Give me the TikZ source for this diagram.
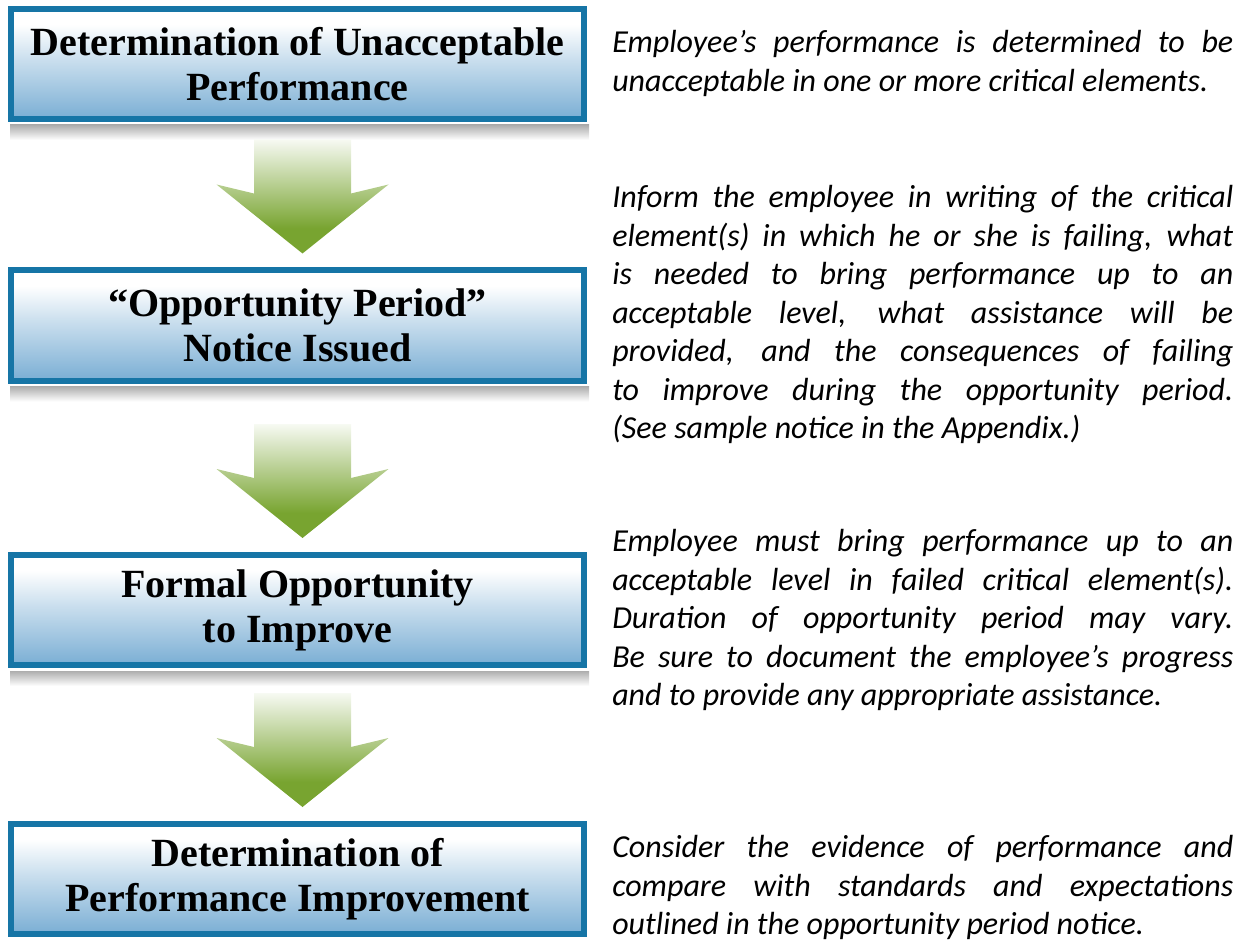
\documentclass[tikz,border=0pt]{standalone}
\usepackage{fontspec}
\setmainfont{Liberation Serif}
\newfontfamily\notefont{Carlito}
\usetikzlibrary{calc}
\definecolor{frameblue}{RGB}{22,117,166}
\definecolor{fillblue}{RGB}{122,174,212}
\definecolor{arrowgreen}{RGB}{120,164,48}
\pgfdeclareverticalshading{stagefade}{100bp}{color(0bp)=(fillblue); color(25bp)=(fillblue); color(52bp)=(fillblue!40!white); color(68bp)=(white); color(100bp)=(white)}
\pgfdeclareverticalshading{arrowfade}{100bp}{color(0bp)=(arrowgreen); color(36bp)=(arrowgreen); color(75bp)=(arrowgreen!6!white); color(100bp)=(arrowgreen!6!white)}
\tikzset{
  stagebox/.style={draw=frameblue, line width=4.5pt, shade, shading=stagefade,
    minimum width=429.75pt, minimum height=82.5pt, inner sep=0pt, align=center,
    font=\fontsize{30}{33.75}\selectfont\bfseries},
  notetext/.style={anchor=north west, text width=465.75pt, inner sep=0pt,
    align=justify, font=\notefont\itshape\fontsize{24}{28.9}\selectfont},
}
\def\flowarrow#1#2{
  % 1: box above
  % 2: box below (the tip stops just over its top edge)
  \begin{scope}[shift={($(#1.south |- #2.north)+(5,-14)$)}]
    \shade[shading=arrowfade] (0,0) -- (86,-69) -- (48.5,-60) -- (48.5,-114)
      -- (-48.5,-114) -- (-48.5,-60) -- (-86,-69) -- cycle;
  \end{scope}
}
\def\boxshadow#1{
  % soft grey strip under box #1
  \shade[top color=black!32, bottom color=white]
    ($(#1.south west)+(2,3)$) rectangle ($(#1.south east)+(2,18)$);
}

\begin{document}
\begin{tikzpicture}[x=0.75pt,y=-0.75pt]
  \useasboundingbox (0,0) rectangle (1246,941);

  \node[stagebox] (b1) at (297.5,64)  {Determination of Unacceptable\\Performance};
  \node[stagebox] (b2) at (297.5,325.5) {“Opportunity Period”\\Notice Issued};
  \node[stagebox] (b3) at (297.5,610) {Formal Opportunity\\to Improve};
  \node[stagebox] (b4) at (297.5,879) {Determination of\\Performance Improvement};

  \boxshadow{b1}
  \boxshadow{b2}
  \boxshadow{b3}

  \flowarrow{b1}{b2}
  \flowarrow{b2}{b3}
  \flowarrow{b3}{b4}

  \node[notetext] (n1) at (612,30) {Employee’s performance is determined to be \linebreak
    unacceptable in one or more critical elements.};
  \node[notetext] (n2) at (612,185) {Inform the employee in writing of the critical \linebreak
    element(s) in which he or she is failing, what \linebreak
    is needed to bring performance up to an \linebreak
    acceptable level, what assistance will be \linebreak
    provided, and the consequences of failing \linebreak
    to improve during the opportunity period. \linebreak
    (See sample notice in the Appendix.)};
  \node[notetext] (n3) at (612,529) {Employee must bring performance up to an \linebreak
    acceptable level in failed critical element(s). \linebreak
    Duration of opportunity period may vary. \linebreak
    Be sure to document the employee’s progress \linebreak
    and to provide any appropriate assistance.};
  \node[notetext] (n4) at (612,835) {Consider the evidence of performance and \linebreak
    compare with standards and expectations \linebreak
    outlined in the opportunity period notice.};
\end{tikzpicture}
\end{document}
